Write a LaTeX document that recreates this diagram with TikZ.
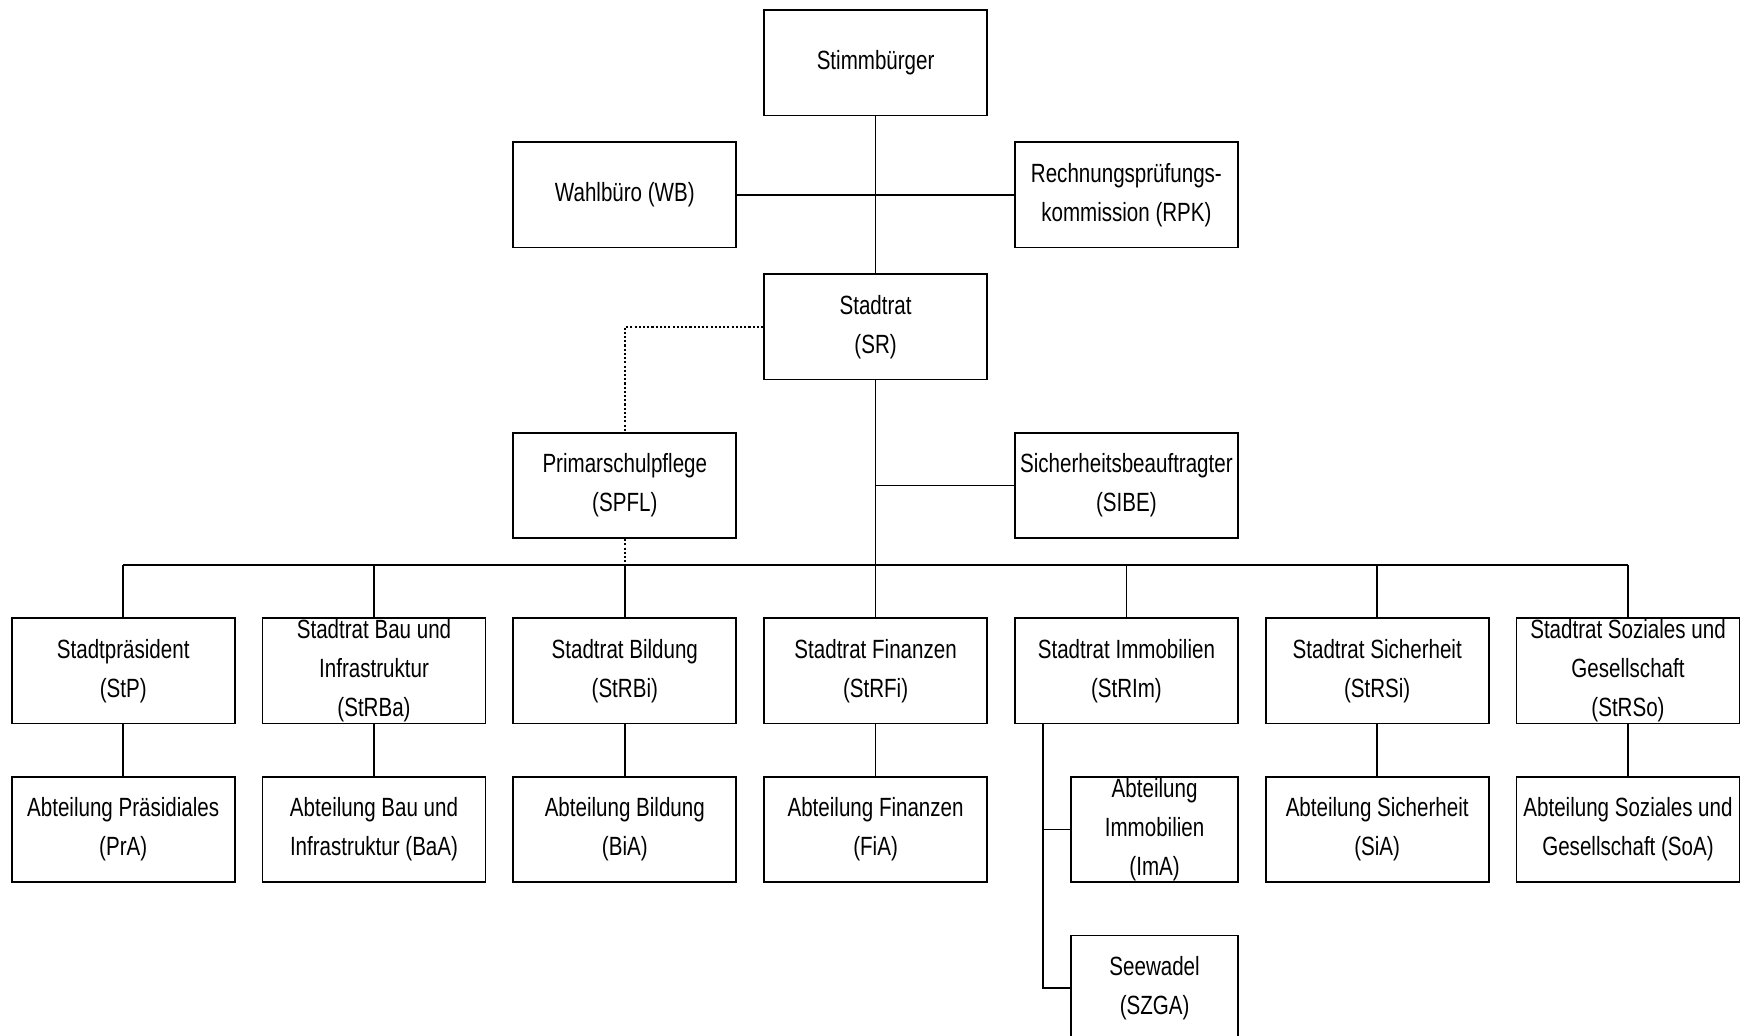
\documentclass[tikz,border=0pt]{standalone}
\usepackage{fontspec}
\setmainfont[FakeStretch=0.78]{Liberation Sans}
\usetikzlibrary{positioning,calc}

\begin{document}
\begin{tikzpicture}[x=1cm, y=1cm,
          box/.style={rectangle, draw, fill=white, line width=0.5pt,
            minimum width=2.23cm, minimum height=1.054cm, inner sep=0pt,
            align=center, font=\fontsize{7.5}{11.1}\selectfont},
          smallbox/.style={box, minimum width=1.675cm},
          conn/.style={-, line width=0.5pt},
          dotline/.style={-, line width=0.5pt, dash pattern=on 0.6pt off 0.6pt}]
        \clip (0,0) rectangle (17.4,-10.35);
        % upper part
        \node[box] (Stimm) at (8.756,-0.627) {Stimmbürger};
        \node[box] (WB) at (6.248,-1.948) {Wahlbüro (WB)};
        \node[box] (RPK) at (11.264,-1.948) {Rechnungsprüfungs-\\kommission (RPK)};
        \node[box] (SR) at (8.756,-3.268) {Stadtrat\\(SR)};
        \node[box] (SPFL) at (6.248,-4.855) {Primarschulpflege\\(SPFL)};
        \node[box] (SIBE) at (11.264,-4.855) {Sicherheitsbeauftragter\\(SIBE)};
        \coordinate (bus) at (0,-5.648);
        \coordinate (imx) at (10.431,0);
        % Stadtraete
        \foreach \i/\x/\txt in {1/1.232/{Stadtpräsident\\(StP)},
                                2/3.740/{Stadtrat Bau und\\Infrastruktur\\(StRBa)},
                                3/6.248/{Stadtrat Bildung\\(StRBi)},
                                4/8.756/{Stadtrat Finanzen\\(StRFi)},
                                5/11.264/{Stadtrat Immobilien\\(StRIm)},
                                6/13.772/{Stadtrat Sicherheit\\(StRSi)},
                                7/16.280/{Stadtrat Soziales und\\Gesellschaft\\(StRSo)}}
            \node[box] (S\i) at (\x,-6.708) {\txt};
        % Abteilungen
        \foreach \i/\x/\txt in {1/1.232/{Abteilung Präsidiales\\(PrA)},
                                2/3.740/{Abteilung Bau und\\Infrastruktur (BaA)},
                                3/6.248/{Abteilung Bildung\\(BiA)},
                                4/8.756/{Abteilung Finanzen\\(FiA)},
                                6/13.772/{Abteilung Sicherheit\\(SiA)},
                                7/16.280/{Abteilung Soziales und\\Gesellschaft (SoA)}}
            \node[box] (A\i) at (\x,-8.295) {\txt};
        \node[smallbox] (ImA) at (11.546,-8.295) {Abteilung\\Immobilien\\(ImA)};
        \node[smallbox] (SZGA) at (11.546,-9.882) {Seewadel\\(SZGA)};
        % connectors
        \draw[conn] (Stimm) -- (SR);
        \draw[conn] (WB) -- (RPK);
        \draw[conn] (SR.south) -- (SR.south |- bus);
        \draw[conn] (SIBE.west) -- (SIBE.west -| SR.south);
        \draw[conn] (S1.north |- bus) -- (S7.north |- bus);
        \foreach \i in {1,...,7}
            \draw[conn] (S\i.north) -- (S\i.north |- bus);
        \foreach \i in {1,2,3,4,6,7}
            \draw[conn] (S\i) -- (A\i);
        \draw[conn] (S5.south -| imx) |- (SZGA.west);
        \draw[conn] (ImA.west) -- (ImA.west -| imx);
        \draw[dotline] (SR.west) -| (SPFL.north);
        \draw[dotline] (SPFL.south) -- (SPFL.south |- bus);
      \end{tikzpicture}
\end{document}
